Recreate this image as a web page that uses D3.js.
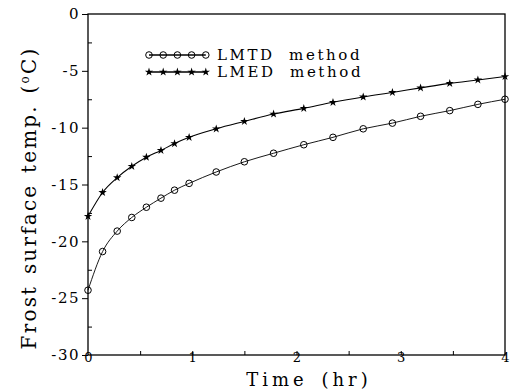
<!DOCTYPE html>
<html>
<head>
<meta charset="utf-8">
<script src="https://cdn.jsdelivr.net/npm/d3@7"></script>
<style>
  body { margin: 0; background: #fff; }
  svg { display: block; font-family: "DejaVu Serif", "Liberation Serif", serif; }
</style>
</head>
<body>
<svg id="chart" width="522" height="390"></svg>
<script>
// time in hours
const times = [0, 0.14, 0.28, 0.42, 0.56, 0.70, 0.83, 0.97, 1.23, 1.50, 1.78, 2.07, 2.35, 2.64, 2.92, 3.19, 3.47, 3.74, 4.0];
// frost surface temperature, deg C
const lmtd = [-24.3, -20.9, -19.1, -17.9, -17.0, -16.2, -15.5, -14.9, -13.9, -13.0, -12.25, -11.5, -10.85, -10.1, -9.6, -9.0, -8.5, -7.95, -7.5];
const lmed = [-17.8, -15.7, -14.4, -13.4, -12.6, -12.0, -11.4, -10.85, -10.1, -9.45, -8.8, -8.3, -7.77, -7.3, -6.9, -6.5, -6.1, -5.8, -5.5];
const seriesNames = ["LMTD method", "LMED method"];
const xTicks = [0, 1, 2, 3, 4];
const yTicks = [0, -5, -10, -15, -20, -25, -30];

const svg = d3.select('#chart');

const x = d3.scaleLinear().domain([0, 4]).range([88, 505]);
const y = d3.scaleLinear().domain([-30, 0]).range([355, 14]);

// frame
svg.append('rect')
  .attr('x', x(0)).attr('y', y(0))
  .attr('width', x(4) - x(0)).attr('height', y(-30) - y(0))
  .attr('fill', 'none').attr('stroke', '#000').attr('stroke-width', 1.3);

// y axis: major ticks outside with labels, minor ticks inside
const yAxis = svg.append('g')
  .attr('transform', `translate(${x(0)},0)`)
  .call(d3.axisLeft(y).tickValues(yTicks).tickSize(6).tickPadding(2).tickFormat(d => String(d)));
yAxis.select('.domain').remove();
yAxis.selectAll('text')
  .attr('font-size', 15).attr('letter-spacing', 1.5)
  .attr('font-family', '"DejaVu Serif", serif').attr('fill', '#000');

const yMinor = svg.append('g')
  .attr('transform', `translate(${x(0)},0)`)
  .call(d3.axisRight(y).tickValues(d3.range(-27.5, 0, 5)).tickSize(4).tickFormat(''));
yMinor.select('.domain').remove();

// x axis: inward ticks, labels below
const xMinor = svg.append('g')
  .attr('transform', `translate(0,${y(-30)})`)
  .call(d3.axisTop(x).tickValues(d3.range(0.5, 4, 0.5)).tickSize(4).tickFormat(''));
xMinor.select('.domain').remove();

const xAxis = svg.append('g')
  .attr('transform', `translate(0,${y(-30)})`)
  .call(d3.axisBottom(x).tickValues(xTicks).tickSize(0).tickPadding(-2).tickFormat(d => String(d)));
xAxis.select('.domain').remove();
xAxis.selectAll('text')
  .attr('font-size', 13)
  .attr('font-family', '"DejaVu Serif", serif').attr('fill', '#000');

// axis titles
svg.append('text')
  .attr('x', 309).attr('y', 386)
  .attr('text-anchor', 'middle')
  .attr('font-size', 18).attr('letter-spacing', 4)
  .attr('word-spacing', 4)
  .text('Time (hr)');

const yTitle = svg.append('text')
  .attr('transform', 'translate(36,198) rotate(-90)')
  .attr('text-anchor', 'middle')
  .attr('font-size', 20).attr('letter-spacing', 2.2)
  .attr('word-spacing', 2);
yTitle.append('tspan').text('Frost surface temp. (');
yTitle.append('tspan').attr('font-size', 12).attr('dy', -7).text('o');
yTitle.append('tspan').attr('dy', 7).text('C)');

// lines
const line = d3.line()
  .x((d, i) => x(times[i]))
  .y(d => y(d))
  .curve(d3.curveMonotoneX);

svg.append('path').datum(lmtd)
  .attr('d', line).attr('fill', 'none').attr('stroke', '#000').attr('stroke-width', 0.9);
svg.append('path').datum(lmed)
  .attr('d', line).attr('fill', 'none').attr('stroke', '#000').attr('stroke-width', 1.1);

const star = d3.symbol().type(d3.symbolStar).size(22);

function circles(g, pts) {
  g.selectAll('circle').data(pts).enter().append('circle')
    .attr('cx', d => d[0]).attr('cy', d => d[1]).attr('r', 3.3)
    .attr('fill', 'none').attr('stroke', '#000').attr('stroke-width', 1);
}
function stars(g, pts) {
  g.selectAll('path').data(pts).enter().append('path')
    .attr('d', star)
    .attr('transform', d => `translate(${d[0]},${d[1]})`)
    .attr('fill', '#000');
}

circles(svg.append('g'), lmtd.map((v, i) => [x(times[i]), y(v)]));
stars(svg.append('g'), lmed.map((v, i) => [x(times[i]), y(v)]));

// legend
const legendX = d3.range(5).map(i => 149 + i * 14.2);
const lg = svg.append('g');
[55, 72].forEach((ly, k) => {
  lg.append('line')
    .attr('x1', legendX[0]).attr('x2', legendX[4]).attr('y1', ly).attr('y2', ly)
    .attr('stroke', '#000').attr('stroke-width', 1.3);
  const pts = legendX.map(lx => [lx, ly]);
  if (k === 0) circles(lg.append('g'), pts); else stars(lg.append('g'), pts);
  lg.append('text')
    .attr('x', 217).attr('y', ly + 5)
    .attr('font-size', 15).attr('letter-spacing', 2.6)
    .attr('word-spacing', 7)
    .text(seriesNames[k]);
});
</script>
</body>
</html>
